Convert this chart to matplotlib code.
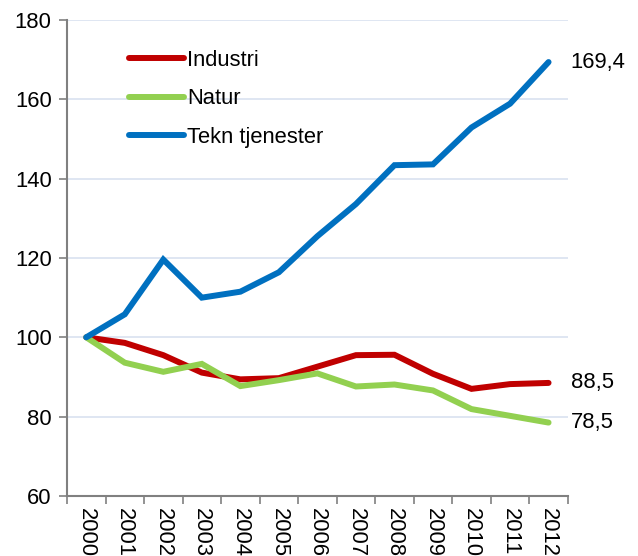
import matplotlib
matplotlib.use("Agg")
import matplotlib.pyplot as plt
import numpy as np

years = [str(y) for y in range(2000, 2013)]
industri = [100, 98.6, 95.5, 91.1, 89.4, 89.7, 92.6, 95.5, 95.6, 90.8, 87.0, 88.2, 88.5]
natur = [100, 93.6, 91.3, 93.3, 87.7, 89.2, 90.9, 87.6, 88.1, 86.6, 81.9, 80.2, 78.5]
tekn = [100, 105.8, 119.6, 110.0, 111.5, 116.4, 125.5, 133.6, 143.4, 143.6, 152.9, 158.9, 169.4]
end_labels = ["88,5", "78,5", "169,4"]
yticks = [60, 80, 100, 120, 140, 160, 180]

plt.rcParams['font.family'] = ['Liberation Sans', 'DejaVu Sans']
FS = 15.8

fig = plt.figure(figsize=(6.38, 5.56), dpi=100)
ax = fig.add_axes([0.105, 0.108, 0.785, 0.856])

x = np.arange(len(years))
series = [("Industri", industri, "#C00000"),
          ("Natur", natur, "#92D050"),
          ("Tekn tjenester", tekn, "#0070C0")]
for (name, vals, col), lab in zip(series, end_labels):
    ax.plot(x, vals, color=col, lw=4.3, label=name, solid_capstyle='round', solid_joinstyle='miter')
    ax.annotate(lab, xy=(x[-1], vals[-1]), xytext=(16, 0), textcoords='offset points',
                va='center', ha='left', fontsize=FS, annotation_clip=False)

ax.set_xlim(-0.5, len(years) - 0.5)
ax.set_ylim(60, 180)
ax.set_yticks(yticks)
ax.set_yticklabels([str(t) for t in yticks], fontsize=FS)
ax.set_xticks(x)
ax.set_xticklabels(years, rotation=-90, fontsize=FS, va='top', ha='center')
ax.set_xticks(np.arange(-0.5, len(years), 1), minor=True)
ax.tick_params(axis='x', which='major', length=0, pad=9)
ax.tick_params(axis='x', which='minor', length=6, color='#808080', width=1.2)
ax.tick_params(axis='y', length=6, color='#808080', width=1.2, pad=5)

ax.grid(axis='y', color='#D9E2F0', lw=1.2)
ax.set_axisbelow(True)
for s in ['top', 'right']:
    ax.spines[s].set_visible(False)
for s in ['left', 'bottom']:
    ax.spines[s].set_color('#808080')
    ax.spines[s].set_linewidth(1.5)

leg = ax.legend(loc='upper left', bbox_to_anchor=(0.124, 0.937), frameon=False, fontsize=FS,
                handlelength=2.5, handletextpad=0.15, labelspacing=0.79, borderaxespad=0,
                borderpad=0)

fig.savefig("out.png", dpi=100)
